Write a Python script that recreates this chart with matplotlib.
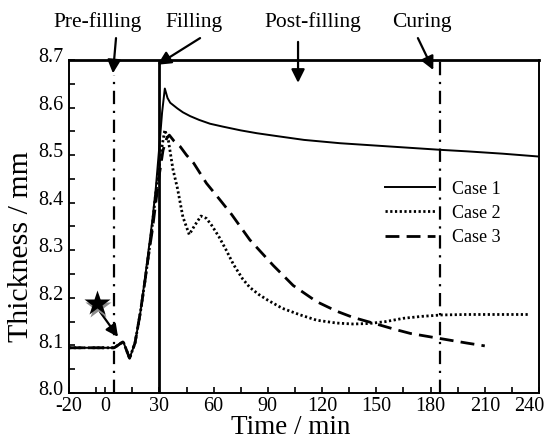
"""Thickness evolution over the moulding stages, three cases."""

import matplotlib
matplotlib.use("Agg")
import matplotlib.pyplot as plt
import matplotlib.transforms as mtransforms
import numpy as np


# Case 1 (solid)
t_case1 = [-20, 5, 10, 13.5, 16.5, 19.5, 22, 24, 26, 28, 30, 31.5, 33, 34.5, 36, 40, 43,
           47, 52, 58, 65, 75, 84, 95, 110, 130, 150, 170, 186, 200, 220, 240]
y_case1 = [8.095, 8.095, 8.108, 8.073, 8.105, 8.17, 8.24, 8.30, 8.36, 8.43, 8.52, 8.59,
           8.64, 8.62, 8.61, 8.598, 8.59, 8.582, 8.574, 8.566, 8.56, 8.552, 8.546, 8.540,
           8.532, 8.525, 8.52, 8.515, 8.511, 8.508, 8.503, 8.497]

# Case 2 (dotted)
t_case2 = [-20, 5, 10, 13.5, 16.5, 19.5, 22, 24, 26, 28, 30, 31.5, 33, 35, 37.5, 40, 43,
           46.5, 49.5, 53, 56, 59, 63, 67, 71, 76, 80, 85, 90, 98, 108, 117, 128, 137,
           146, 155, 165, 175, 186, 200, 220, 235]
y_case2 = [8.095, 8.095, 8.108, 8.073, 8.105, 8.17, 8.235, 8.29, 8.35, 8.42, 8.48, 8.52,
           8.553, 8.53, 8.47, 8.43, 8.37, 8.333, 8.352, 8.372, 8.367, 8.352, 8.328, 8.30,
           8.27, 8.24, 8.222, 8.207, 8.195, 8.178, 8.164, 8.153, 8.147, 8.145, 8.146,
           8.15, 8.157, 8.161, 8.164, 8.165, 8.165, 8.165]

# Case 3 (dashed)
t_case3 = [-20, 5, 10, 13.5, 16.5, 19.5, 22, 24, 26, 28, 30, 32, 34, 35.5, 38, 41.5, 45,
           49, 56, 63.5, 70, 80, 93, 104, 117, 128, 137, 150, 160, 169, 186, 200, 210]
y_case3 = [8.095, 8.095, 8.108, 8.073, 8.105, 8.17, 8.235, 8.29, 8.34, 8.40, 8.46, 8.51,
           8.535, 8.542, 8.53, 8.518, 8.50, 8.483, 8.441, 8.406, 8.375, 8.322, 8.268,
           8.226, 8.192, 8.172, 8.159, 8.145, 8.134, 8.125, 8.114, 8.105, 8.099]

stage_names = ["Pre-filling", "Filling", "Post-filling", "Curing"]
stage_text_xy = [(-4, 8.78), (49, 8.778), (115, 8.78), (175, 8.778)]
stage_tail_xy = [(6, 8.746), (52.5, 8.746), (106.7, 8.738), (173, 8.746)]
stage_head_xy = [(4.3, 8.672), (29, 8.69), (106.7, 8.652), (181.5, 8.679)]

t_prefill = 5
t_fill = 30
t_cure = 185

star_xy = (-4.7, 8.189)
star_arrow_head = (7.1, 8.118)

x_ticks = [-20, 0, 30, 60, 90, 120, 150, 180, 210, 240]
x_minor = [-5, 15, 45, 75, 105, 135, 165, 195, 225]
y_ticks = [8.0, 8.1, 8.2, 8.3, 8.4, 8.5, 8.6, 8.7]


plt.rcParams.update({
    "font.family": "Liberation Serif",
    "font.size": 14.5,
    "axes.unicode_minus": False,
})

fig = plt.figure(figsize=(5.46, 4.42), dpi=100)
ax = fig.add_axes([0.1264, 0.1109, 0.8608, 0.7534])

ax.plot(t_case1, y_case1, color="black", lw=1.4, ls="-", label="Case 1")
ax.plot(t_case2, y_case2, color="black", lw=2.0, ls=(0, (0.8, 0.9)), label="Case 2")
ax.plot(t_case3, y_case3, color="black", lw=2.0, ls=(0, (5, 2.6)), label="Case 3")

# stage boundaries
ax.plot([t_fill, t_fill], [8.0, 8.7], color="black", lw=2.0, solid_capstyle="butt")
ax.plot([t_prefill, t_prefill], [8.0, 8.668], color="black", lw=1.6,
        ls=(0, (6, 3, 1, 3)))
ax.plot([t_cure, t_cure], [8.0, 8.7], color="black", lw=1.6, ls=(0, (6, 3, 1, 3)))

for name, txy, tail, head in zip(stage_names, stage_text_xy, stage_tail_xy, stage_head_xy):
    ax.text(txy[0], txy[1], name, ha="center", va="center", fontsize=15.5, clip_on=False)
    ax.annotate("", xy=head, xytext=tail, annotation_clip=False,
                arrowprops=dict(arrowstyle="-|>", color="black", lw=1.6,
                                mutation_scale=20, shrinkA=0, shrinkB=0))

# starting-point marker
ax.plot(star_xy[0] + 1.0, star_xy[1] - 0.007, marker="*", ms=19, color="#8a8a8a",
        mec="none", zorder=4)
ax.plot(star_xy[0], star_xy[1], marker="*", ms=19, color="black", mec="none", zorder=5)
ax.annotate("", xy=star_arrow_head, xytext=(star_xy[0] + 1.8, star_xy[1] - 0.018),
            arrowprops=dict(arrowstyle="-|>", color="black", lw=1.6,
                            mutation_scale=18, shrinkA=0, shrinkB=0))

ax.set_xlim(-20, 240)
ax.set_ylim(8.0, 8.7)
ax.set_xticks(x_ticks)
ax.set_xticklabels([str(v) for v in x_ticks])
ax.set_xticks(x_minor, minor=True)
ax.set_yticks(y_ticks)
ax.set_yticklabels([f"{v:.1f}" for v in y_ticks])
ax.set_yticks(np.arange(8.05, 8.7, 0.1), minor=True)
ax.tick_params(which="both", direction="in", length=4, width=1.2, labelsize=14.5)
ax.tick_params(axis="x", pad=3)
ax.tick_params(axis="y", pad=4)

# keep the last x label inside the picture, lift the y labels a little
last = ax.get_xticklabels()[-1]
last.set_transform(last.get_transform() +
                   mtransforms.ScaledTranslation(-7 / 72, 0, fig.dpi_scale_trans))
for lab in ax.get_yticklabels():
    lab.set_transform(lab.get_transform() +
                      mtransforms.ScaledTranslation(0, 3.5 / 72, fig.dpi_scale_trans))

for side in ["left", "bottom", "right"]:
    ax.spines[side].set_linewidth(1.4)
ax.spines["top"].set_linewidth(2.0)

ax.set_xlabel("Time / min", fontsize=19.5)
ax.xaxis.set_label_coords(0.472, -0.067)
ax.set_ylabel("Thickness / mm", fontsize=21.5)
ax.yaxis.set_label_coords(-0.074, 0.44)

ax.legend(loc="upper left", bbox_to_anchor=(0.672, 0.638), frameon=False,
          handlelength=2.8, handletextpad=0.9, labelspacing=0.4, borderpad=0,
          borderaxespad=0, fontsize=13)

fig.savefig("out.png", dpi=100)
